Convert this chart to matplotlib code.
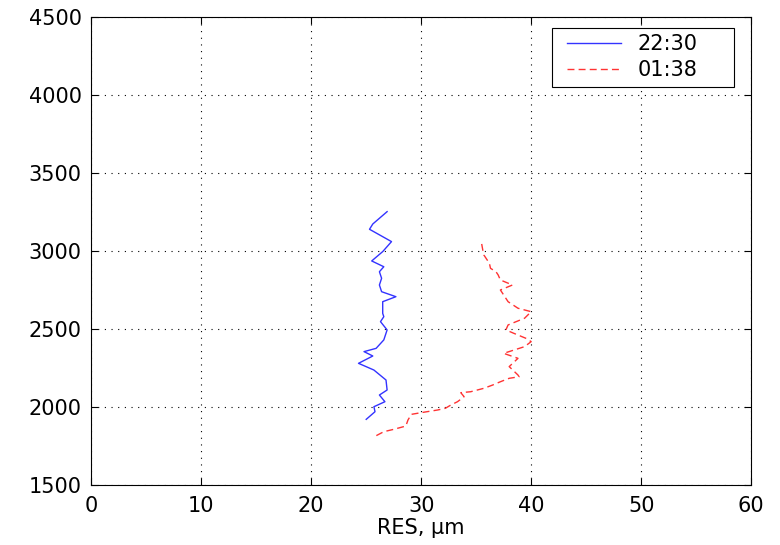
import numpy as np
import matplotlib.pyplot as plt
from matplotlib.lines import Line2D
from matplotlib.legend_handler import HandlerLine2D

plt.rcParams['font.family'] = ['DejaVu Sans']

# 22:30 profile (RES in um vs height)
res_2230 = [26.9, 25.6, 25.3, 27.3, 26.5, 25.5, 26.6, 26.2, 26.4, 26.2, 26.4, 27.7,
            26.5, 26.5, 26.6, 26.3, 26.9, 26.6, 25.9, 24.8, 25.6, 24.3, 25.7, 26.8,
            26.9, 26.2, 26.7, 25.7, 25.8, 25.0]
h_2230 = [3252, 3173, 3139, 3060, 2996, 2936, 2899, 2867, 2825, 2782, 2739, 2707,
          2675, 2600, 2579, 2547, 2494, 2430, 2376, 2355, 2327, 2280, 2237, 2173,
          2109, 2077, 2034, 2002, 1970, 1921]

# 01:38 profile
res_0138 = [35.5, 35.6, 35.7, 36.2, 36.3, 36.8, 37.0, 37.2, 38.3, 37.2, 37.5, 37.9,
            38.8, 40.0, 39.4, 37.9, 37.7, 38.4, 39.5, 40.0, 39.4, 37.5, 38.8, 38.0,
            38.8, 38.9, 38.0, 37.2, 36.5, 35.7, 34.5, 33.6, 33.9, 33.3, 32.7, 32.2,
            31.5, 30.0, 29.1, 28.8, 28.6, 27.5, 26.6, 25.9]
h_0138 = [3045, 3006, 2974, 2921, 2889, 2867, 2846, 2814, 2782, 2750, 2718, 2675,
          2633, 2611, 2569, 2526, 2494, 2473, 2441, 2419, 2387, 2344, 2312, 2259,
          2205, 2194, 2184, 2162, 2141, 2120, 2098, 2092, 2066, 2034, 2013, 1992,
          1981, 1964, 1953, 1917, 1878, 1857, 1842, 1816]

FS = 15

fig = plt.figure(figsize=(7.8, 5.45), dpi=100)
ax = fig.add_axes([0.117, 0.110, 0.846, 0.859])

ax.plot(res_2230, h_2230, color='#3333ff', linewidth=1.0, label='22:30')
ax.plot(res_0138, h_0138, color='#ff3333', linestyle='--', dashes=(5, 3),
        linewidth=1.0, label='01:38')

ax.set_xlim(0, 60)
ax.set_ylim(1500, 4500)
ax.set_xticks(np.arange(0, 61, 10))
ax.set_yticks(np.arange(1500, 4501, 500))
ax.grid(True, color='black', linestyle=(0, (1, 5)), linewidth=0.8)
ax.tick_params(direction='in', top=True, right=True, labelsize=FS, length=5)
ax.tick_params(axis='x', pad=8)
ax.tick_params(axis='y', pad=7)
ax.set_xlabel('RES, μm', fontsize=FS, labelpad=1)

# legend box stretched to the width used in the original
leg = ax.legend(loc='upper right', bbox_to_anchor=(0.698, 0.80, 0.276, 0.1765),
                mode='expand', borderaxespad=0,
                fontsize=FS, fancybox=False, edgecolor='black', framealpha=1,
                handlelength=3.0, handletextpad=0.8, labelspacing=0.3,
                borderpad=0.3, handler_map={Line2D: HandlerLine2D(xpad=0.45)})
leg.get_frame().set_linewidth(0.8)

fig.savefig('out.png', dpi=100)
